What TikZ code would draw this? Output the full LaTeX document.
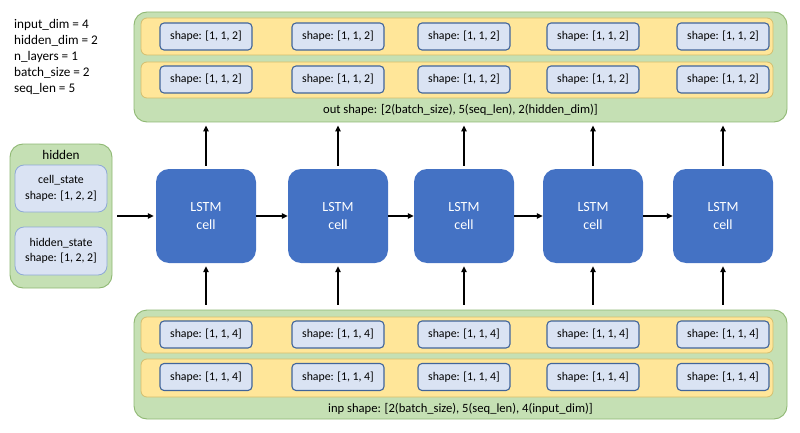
\documentclass[tikz,border=0pt]{standalone}
\usepackage{fontspec}
\setmainfont{Carlito}
\usetikzlibrary{arrows.meta}
\definecolor{gfill}{HTML}{C5E0B4}
\definecolor{gdraw}{HTML}{8FB873}
\definecolor{yfill}{HTML}{FFE699}
\definecolor{ydraw}{HTML}{D4BE6E}
\definecolor{bfill}{HTML}{DAE3F3}
\definecolor{bdraw}{HTML}{41659A}
\definecolor{bdrawl}{HTML}{8EA9D6}
\definecolor{cellblue}{HTML}{4472C4}
\tikzset{
  greenbox/.style={draw=gdraw, fill=gfill, line width=0.9pt, rounded corners=13pt, inner sep=0pt},
  yellowrow/.style={draw=ydraw, fill=yfill, line width=0.8pt, rounded corners=6pt, inner sep=0pt, minimum width=632pt},
  shapebox/.style={draw=bdraw, fill=bfill, line width=1.1pt, rounded corners=4pt, inner sep=0pt, minimum width=92pt, minimum height=27pt, font=\fontsize{11.8}{13}\selectfont},
  hidbox/.style={draw=bdrawl, fill=bfill, line width=0.8pt, rounded corners=9pt, inner sep=0pt, minimum width=92pt, align=center, font=\fontsize{11.8}{15.5}\selectfont},
  cellbox/.style={fill=cellblue, rounded corners=13pt, inner sep=0pt, minimum width=100pt, minimum height=94pt, text=white, align=center, font=\fontsize{14}{18}\selectfont},
  arr/.style={-{Triangle[length=6pt,width=5.5pt]}, line width=1.4pt, black},
  lbl/.style={inner sep=0pt, font=\fontsize{13.2}{15}\selectfont}
}
\begin{document}
\begin{tikzpicture}[x=1pt,y=-1pt]
\useasboundingbox (0,0) rectangle (800,433);
% parameters text
\node[lbl, anchor=west] (p1) at (14,25) {input\_dim = 4};
\node[lbl, anchor=west] (p2) at (14,41) {hidden\_dim = 2};
\node[lbl, anchor=west] (p3) at (14,57) {n\_layers = 1};
\node[lbl, anchor=west] (p4) at (14,73) {batch\_size = 2};
\node[lbl, anchor=west] (p5) at (14,89) {seq\_len = 5};

% output box
\node[greenbox, minimum width=653pt, minimum height=110pt] (out) at (460.5,67) {};
\node[yellowrow, minimum height=37pt] (orow1) at (457,36.5) {};
\node[yellowrow, minimum height=36pt] (orow2) at (457,80) {};
\node[lbl, font=\fontsize{12.6}{14}\selectfont] (olbl) at (460.5,110) {out shape: [2(batch\_size), 5(seq\_len), 2(hidden\_dim)]};

% input box
\node[greenbox, minimum width=653pt, minimum height=109pt] (inp) at (460.5,364.5) {};
\node[yellowrow, minimum height=36pt] (irow1) at (457,335) {};
\node[yellowrow, minimum height=38pt] (irow2) at (457,378) {};
\node[lbl, font=\fontsize{12.6}{14}\selectfont] (ilbl) at (460.5,409) {inp shape: [2(batch\_size), 5(seq\_len), 4(input\_dim)]};

% shape boxes and cells
\foreach \i/\x in {1/206,2/338,3/464,4/593,5/723}{
  \node[shapebox] (oa\i) at (\x,36.5) {shape: [1, 1, 2]};
  \node[shapebox] (ob\i) at (\x,79.5) {shape: [1, 1, 2]};
  \node[shapebox] (ia\i) at (\x,334.5) {shape: [1, 1, 4]};
  \node[shapebox] (ib\i) at (\x,377) {shape: [1, 1, 4]};
  \node[cellbox] (c\i) at (\x,216) {LSTM\\cell};
  \draw[arr, shorten <=3pt, shorten >=3pt] (c\i.north) -- (c\i.north |- out.south);
  \draw[arr, shorten <=5pt, shorten >=3pt] (c\i.south |- inp.north) -- (c\i.south);
}

% hidden box
\node[greenbox, minimum width=102pt, minimum height=144pt] (hid) at (61,216) {};
\node[lbl] (hlbl) at (61,155) {hidden};
\node[hidbox, minimum height=47pt] (cs) at (61,188.5) {cell\_state\\shape: [1, 2, 2]};
\node[hidbox, minimum height=48pt] (hs) at (61,251) {hidden\_state\\shape: [1, 2, 2]};

% horizontal arrows
\draw[arr, shorten <=5pt, shorten >=2pt] (hid.east) -- (c1.west);
\draw[arr] (c1.east) -- (c2.west);
\draw[arr] (c2.east) -- (c3.west);
\draw[arr] (c3.east) -- (c4.west);
\draw[arr] (c4.east) -- (c5.west);
\end{tikzpicture}
\end{document}
